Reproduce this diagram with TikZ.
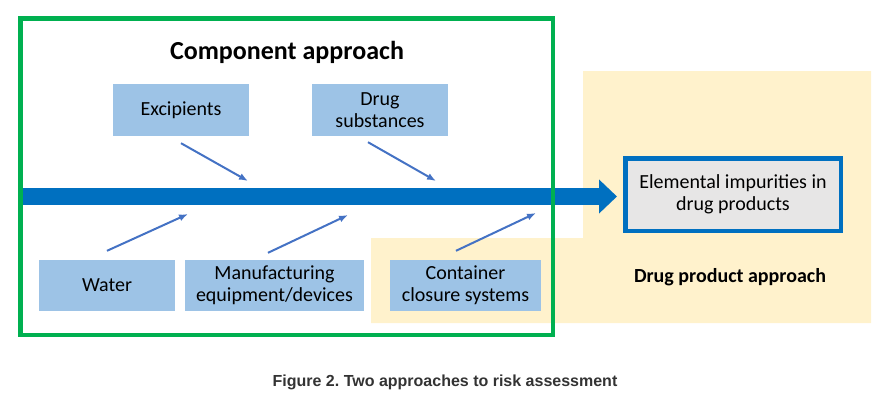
\documentclass[tikz,border=0pt]{standalone}
\usepackage{fontspec}
\setmainfont{Carlito}
\newfontfamily\capfont{Liberation Sans}
\usetikzlibrary{positioning,calc,arrows.meta}
\definecolor{BoxBlue}{RGB}{157,195,230}
\definecolor{FlowBlue}{RGB}{0,112,192}
\definecolor{FeedBlue}{RGB}{68,114,196}
\definecolor{FrameGreen}{RGB}{0,176,80}
\definecolor{Cream}{RGB}{255,242,204}
\definecolor{BoxGray}{RGB}{231,230,230}
\definecolor{CapGray}{RGB}{51,51,51}
\frenchspacing

\begin{document}
\begin{tikzpicture}[
		x=1pt, y=-1pt,
		comp/.style={fill=BoxBlue, minimum height=51pt, align=center, inner sep=2pt,
			font=\fontsize{20}{22}\selectfont},
		feed/.style={draw=FeedBlue, line width=2pt, -{Latex[length=9pt,width=7pt]}},
		flow/.style={draw=FlowBlue, line width=17pt, -{Triangle[length=18pt,width=33pt]}},
		title/.style={font=\bfseries\fontsize{20}{22}\selectfont}
		]
		\useasboundingbox (0,0) rectangle (893,402);
		
		% ===== vung drug product (nen vang) =====
		\fill[Cream] (583,71) -- (871,71) -- (871,323) -- (371,323) -- (371,238) -- (583,238) -- cycle;
		
		% ===== cac thanh phan =====
		\node[comp, minimum width=136pt, minimum height=52pt] (exc) at (181,110) {Excipients};
		\node[comp, minimum width=136pt, minimum height=52pt] (sub) at (380,110) {Drug\\substances};
		\node[comp, minimum width=136pt] (wat) at (107,285.5) {Water};
		\node[comp, minimum width=179pt] (equ) at (274.5,285.5) {Manufacturing\\equipment/devices};
		\node[comp, minimum width=151pt] (con) at (465.5,285.5) {Container\\closure systems};
		
		% ===== san pham =====
		\node[draw=FlowBlue, fill=BoxGray, line width=4.5pt, minimum width=215.5pt, minimum height=72.5pt,
			align=center, font=\fontsize{20}{22}\selectfont] (elem) at (733,194.5)
			{Elemental impurities in\\drug products};
		
		% ===== mui ten chinh =====
		\coordinate (flowstart) at (20,196.5);
		\draw[flow] (flowstart) -- ($(flowstart -| elem.west)+(-6,0)$);
		
		% ===== mui ten nho =====
		\coordinate (excend) at (248,181);
		\coordinate (subend) at (436,181);
		\coordinate (watend) at (188,214);
		\coordinate (equend) at (348,215);
		\coordinate (conend) at (536,213);
		\draw[feed] ($(exc.south)+(0,7)$) -- (excend);
		\draw[feed] ($(sub.south)+(-12,6)$) -- (subend);
		\draw[feed] ($(wat.north)+(0,-9)$) -- (watend);
		\draw[feed] ($(equ.north)+(-6.5,-7)$) -- (equend);
		\draw[feed] ($(con.north)+(-9.5,-9)$) -- (conend);
		
		% ===== khung component =====
		\draw[FrameGreen, line width=4.5pt] (20.5,18.5) rectangle (553,335);
		
		% ===== tieu de =====
		\node[font=\bfseries\fontsize{26}{28}\selectfont] (comptitle) at (287,52) {Component approach};
		\node[title] (prodtitle) at (730,277) {Drug product approach};
		\node[font=\capfont\bfseries\fontsize{16}{18}\selectfont, text=CapGray] (caption) at (445,382)
			{Figure 2. Two approaches to risk assessment};
		
	\end{tikzpicture}
\end{document}
